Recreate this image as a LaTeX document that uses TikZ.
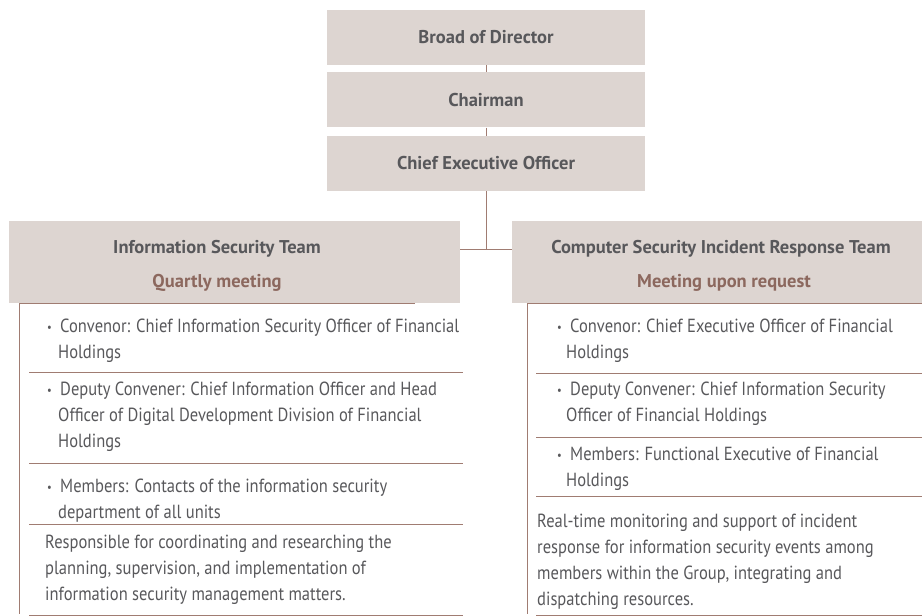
\documentclass[tikz,border=0pt]{standalone}
\usepackage{fontspec}
\setmainfont[FakeStretch=0.87]{PT Sans}
\newfontfamily\headfont{PT Sans}
\usepackage{xcolor}
\usetikzlibrary{positioning}

\definecolor{boxfill}{RGB}{221,213,209}
\definecolor{textgray}{RGB}{88,88,91}
\definecolor{rulebrown}{RGB}{160,124,114}
\definecolor{meetbrown}{RGB}{140,104,94}

\newcommand{\bul}{\makebox[14pt][l]{\hspace*{1pt}\fontsize{12}{12}\selectfont\raisebox{1pt}{•}}}

\begin{document}
\begin{tikzpicture}[x=1pt, y=-1pt,
  topbox/.style={fill=boxfill, minimum width=318pt, minimum height=55pt, inner sep=0pt,
    text=textgray, font=\headfont\bfseries\fontsize{18.5}{20}\selectfont},
  teambox/.style={fill=boxfill, minimum height=82pt, inner sep=0pt},
  teamtitle/.style={anchor=base, text=textgray, inner sep=0pt, font=\headfont\bfseries\fontsize{18.5}{20}\selectfont},
  meeting/.style={anchor=base, text=meetbrown, inner sep=0pt, font=\headfont\bfseries\fontsize{18.5}{20}\selectfont},
  item/.style={anchor=north west, align=left, inner sep=0pt, text=textgray,
    font=\fontsize{19}{26}\selectfont},
  rule/.style={draw=rulebrown, line width=1pt}]
\useasboundingbox (0,0) rectangle (922,616);

% Top of the chain
\node[topbox] (board) at (486,37.5) {Broad of Director};
\node[topbox, below=7pt of board] (chairman) {Chairman};
\node[topbox, below=8pt of chairman] (ceo) {Chief Executive Officer};
\draw[rule] (board) -- (chairman);
\draw[rule] (chairman) -- (ceo);

% Team headers
\node[teambox, minimum width=451pt] (ist) at (234.5,262) {};
\node[teambox, minimum width=410pt] (csirt) at (717,262) {};
\node[teamtitle] (isttitle) at (217,253) {Information Security Team};
\node[meeting] (istmeet) at (217,287) {Quartly meeting};
\node[teamtitle] (csirttitle) at (721,253) {Computer Security Incident Response Team};
\node[meeting] (csirtmeet) at (724,287) {Meeting upon request};

% Branch from the CEO
\coordinate (branch) at (486,249);
\draw[rule] (ceo.south) -- (branch);
\draw[rule] (ist.east |- branch) -- (csirt.west |- branch);

% Left frame
\draw[rule] (19,303.5) -- (415,303.5);
\draw[rule] (19,303.5) -- (19,614);
\foreach \y in {372,463,524,615}
  \draw[rule] (29,\y) -- (463,\y);

% Right frame
\draw[rule] (527,303.5) -- (922,303.5);
\draw[rule] (527,303.5) -- (527,614);
\foreach \y in {373,437,496,615}
  \draw[rule] (536,\y) -- (922,\y);

% Left texts
\node[item] (istconv) at (46,319) {\bul Convenor: Chief Information Security Officer of Financial\\\hspace*{12pt}Holdings};
\node[item] (istdep) at (46,382) {\bul Deputy Convener: Chief Information Officer and Head\\\hspace*{12pt}Officer of Digital Development Division of Financial\\\hspace*{12pt}Holdings};
\node[item] (istmem) at (46,479) {\bul Members: Contacts of the information security\\\hspace*{12pt}department of all units};
\node[item] (istduty) at (45,535) {Responsible for coordinating and researching the\\planning, supervision, and implementation of\\information security management matters.};

% Right texts
\node[item] (csirtconv) at (556,319) {\bul Convenor: Chief Executive Officer of Financial\\\hspace*{10pt}Holdings};
\node[item] (csirtdep) at (556,382) {\bul Deputy Convener: Chief Information Security\\\hspace*{10pt}Officer of Financial Holdings};
\node[item] (csirtmem) at (556,447) {\bul Members: Functional Executive of Financial\\\hspace*{10pt}Holdings};
\node[item] (csirtduty) at (537,514) {Real-time monitoring and support of incident\\response for information security events among\\members within the Group, integrating and\\dispatching resources.};
\end{tikzpicture}
\end{document}
